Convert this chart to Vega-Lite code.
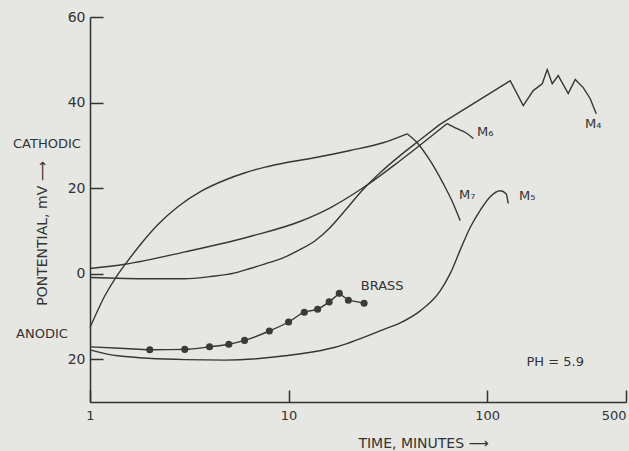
{
  "$schema": "https://vega.github.io/schema/vega-lite/v6.json",
  "width": 536,
  "height": 385,
  "autosize": {"type": "none"},
  "padding": {"left": 90, "top": 17, "right": 3, "bottom": 49},
  "background": "#e6e6e3",
  "config": {"view": {"stroke": null}, "font": "DejaVu Sans"},
  "datasets": {
    "curves": [
      {"s": "M7", "t": 1, "v": -12.6}, {"s": "M7", "t": 1.19, "v": -5.1}, {"s": "M7", "t": 1.38, "v": -0.2}, {"s": "M7", "t": 1.55, "v": 3.0},
      {"s": "M7", "t": 1.83, "v": 7.3}, {"s": "M7", "t": 2.2, "v": 11.5}, {"s": "M7", "t": 2.78, "v": 15.7}, {"s": "M7", "t": 3.67, "v": 19.4},
      {"s": "M7", "t": 4.79, "v": 21.9}, {"s": "M7", "t": 6.04, "v": 23.6}, {"s": "M7", "t": 7.62, "v": 24.9}, {"s": "M7", "t": 9.38, "v": 25.8},
      {"s": "M7", "t": 13.9, "v": 27.2}, {"s": "M7", "t": 20.4, "v": 28.8}, {"s": "M7", "t": 29.9, "v": 30.6}, {"s": "M7", "t": 39.5, "v": 32.7},
      {"s": "M7", "t": 44.4, "v": 30.6}, {"s": "M7", "t": 51.6, "v": 26.4}, {"s": "M7", "t": 60, "v": 21.1}, {"s": "M7", "t": 67.4, "v": 16.4},
      {"s": "M7", "t": 73.1, "v": 12.4},
      {"s": "M6", "t": 1, "v": 1.2}, {"s": "M6", "t": 1.5, "v": 2.2}, {"s": "M6", "t": 3.01, "v": 5.1}, {"s": "M6", "t": 6.39, "v": 8.7},
      {"s": "M6", "t": 11.4, "v": 12.2}, {"s": "M6", "t": 16.2, "v": 15.4}, {"s": "M6", "t": 23.4, "v": 19.9}, {"s": "M6", "t": 36.4, "v": 26.4},
      {"s": "M6", "t": 62.9, "v": 35.1}, {"s": "M6", "t": 70.6, "v": 33.9}, {"s": "M6", "t": 77.7, "v": 33.0}, {"s": "M6", "t": 85.2, "v": 31.6},
      {"s": "M4", "t": 1, "v": -0.9}, {"s": "M4", "t": 2, "v": -1.2}, {"s": "M4", "t": 3, "v": -1.2}, {"s": "M4", "t": 4, "v": -0.7},
      {"s": "M4", "t": 5.38, "v": 0.2}, {"s": "M4", "t": 6.39, "v": 1.2}, {"s": "M4", "t": 7.62, "v": 2.3}, {"s": "M4", "t": 9.38, "v": 3.7},
      {"s": "M4", "t": 11.4, "v": 5.6}, {"s": "M4", "t": 13.6, "v": 7.7}, {"s": "M4", "t": 16.2, "v": 10.8}, {"s": "M4", "t": 19.2, "v": 14.7},
      {"s": "M4", "t": 23.4, "v": 19.4}, {"s": "M4", "t": 28.9, "v": 23.6}, {"s": "M4", "t": 36.4, "v": 27.6}, {"s": "M4", "t": 46.0, "v": 31.3},
      {"s": "M4", "t": 57.8, "v": 34.9},
      {"s": "M4", "t": 130.6, "v": 45.1}, {"s": "M4", "t": 151.9, "v": 39.3}, {"s": "M4", "t": 170.5, "v": 42.8}, {"s": "M4", "t": 189.3, "v": 44.4},
      {"s": "M4", "t": 200.6, "v": 47.7}, {"s": "M4", "t": 212.6, "v": 44.4}, {"s": "M4", "t": 227.9, "v": 46.3}, {"s": "M4", "t": 255.9, "v": 42.1},
      {"s": "M4", "t": 277.6, "v": 45.4}, {"s": "M4", "t": 304.5, "v": 43.5}, {"s": "M4", "t": 330.3, "v": 40.9}, {"s": "M4", "t": 354.1, "v": 37.4},
      {"s": "M5", "t": 1, "v": -17.8}, {"s": "M5", "t": 1.38, "v": -19.2}, {"s": "M5", "t": 3.01, "v": -20.1}, {"s": "M5", "t": 4.79, "v": -20.2},
      {"s": "M5", "t": 9.6, "v": -19.2}, {"s": "M5", "t": 17.15, "v": -17.2}, {"s": "M5", "t": 30.6, "v": -12.9}, {"s": "M5", "t": 36.5, "v": -11.5},
      {"s": "M5", "t": 46, "v": -8.7}, {"s": "M5", "t": 58, "v": -4.0}, {"s": "M5", "t": 65.1, "v": 0}, {"s": "M5", "t": 73.1, "v": 5.5},
      {"s": "M5", "t": 82.1, "v": 10.8}, {"s": "M5", "t": 92.2, "v": 14.8}, {"s": "M5", "t": 103.5, "v": 18.0}, {"s": "M5", "t": 116.3, "v": 19.4},
      {"s": "M5", "t": 124.6, "v": 18.7}, {"s": "M5", "t": 127.6, "v": 16.4},
      {"s": "Brass", "t": 1, "v": -17.1}, {"s": "Brass", "t": 1.5, "v": -17.5}, {"s": "Brass", "t": 2, "v": -17.8}, {"s": "Brass", "t": 3, "v": -17.7},
      {"s": "Brass", "t": 4, "v": -17.1}, {"s": "Brass", "t": 5, "v": -16.5}, {"s": "Brass", "t": 6, "v": -15.6}, {"s": "Brass", "t": 8, "v": -13.4},
      {"s": "Brass", "t": 10, "v": -11.3}, {"s": "Brass", "t": 12, "v": -9.0}, {"s": "Brass", "t": 14, "v": -8.3}, {"s": "Brass", "t": 16, "v": -6.6},
      {"s": "Brass", "t": 18, "v": -4.6}, {"s": "Brass", "t": 20, "v": -6.2}, {"s": "Brass", "t": 24, "v": -6.9}
    ],
    "labels": [
      {"label": "M₄", "t": 342, "v": 34.9},
      {"label": "M₆", "t": 97.7, "v": 33.2},
      {"label": "M₇", "t": 79.3, "v": 18.5},
      {"label": "M₅", "t": 159, "v": 18.2},
      {"label": "BRASS", "t": 29.6, "v": -2.9},
      {"label": "PH = 5.9", "t": 220, "v": -20.6},
      {"label": "CATHODIC", "t": 0.607, "v": 30.4},
      {"label": "ANODIC", "t": 0.573, "v": -14.0}
    ]
  },
  "layer": [
    {
      "data": {"name": "curves"},
      "transform": [{"filter": "!(datum.s == 'M7' && datum.t > 39.5) && !(datum.s == 'M6' && datum.t > 62.9) && !(datum.s == 'M4' && datum.t > 57.8) && !(datum.s == 'Brass' && datum.t > 16)"}],
      "mark": {"type": "line", "color": "#363636", "strokeWidth": 1.4, "interpolate": "monotone", "clip": false},
      "encoding": {
        "x": {
          "field": "t", "type": "quantitative",
          "scale": {"type": "log", "domain": [1, 500]},
          "axis": {
            "values": [1, 10, 100, 500],
            "labelExpr": "format(datum.value, 'd')",
            "labelAlign": {"condition": {"test": "datum.value == 500", "value": "right"}, "value": "center"},
            "grid": false,
            "domainColor": "#333", "domainWidth": 1.5,
            "tickColor": "#333", "tickWidth": 1.5, "tickSize": -12,
            "labelPadding": 19, "labelFontSize": 13, "labelColor": "#333",
            "title": "TIME, MINUTES  ⟶",
            "titleX": 333, "titleY": 41, "titleAlign": "center", "titleBaseline": "middle",
            "titleFontWeight": "normal", "titleFontSize": 14, "titleColor": "#333"
          }
        },
        "y": {
          "field": "v", "type": "quantitative",
          "scale": {"domain": [-30, 60], "nice": false, "zero": false},
          "axis": {
            "values": [60, 40, 20, 0, -20],
            "labelExpr": "format(abs(datum.value), 'd')",
            "grid": false,
            "domainColor": "#333", "domainWidth": 1.5,
            "tickColor": "#333", "tickWidth": 1.5, "tickSize": -13,
            "labelPadding": 18, "labelFontSize": 14, "labelColor": "#333",
            "title": "PONTENTIAL, mV   ⟶",
            "titleX": -48, "titleY": 216, "titleAngle": 270, "titleAlign": "center", "titleBaseline": "middle",
            "titleFontWeight": "normal", "titleFontSize": 14, "titleColor": "#333"
          }
        },
        "detail": {"field": "s"}
      }
    },
    {
      "data": {"name": "curves"},
      "transform": [{"filter": "(datum.s == 'M7' && datum.t >= 39.5) || (datum.s == 'M6' && datum.t >= 62.9)"}],
      "mark": {"type": "line", "color": "#363636", "strokeWidth": 1.4, "interpolate": "monotone", "clip": false},
      "encoding": {
        "x": {"field": "t", "type": "quantitative", "scale": {"type": "log", "domain": [1, 500]}},
        "y": {"field": "v", "type": "quantitative"},
        "detail": {"field": "s"}
      }
    },
    {
      "data": {"name": "curves"},
      "transform": [{"filter": "(datum.s == 'M4' && datum.t >= 57.8) || (datum.s == 'Brass' && datum.t >= 16)"}],
      "mark": {"type": "line", "color": "#363636", "strokeWidth": 1.4, "interpolate": "linear", "clip": false},
      "encoding": {
        "x": {"field": "t", "type": "quantitative", "scale": {"type": "log", "domain": [1, 500]}},
        "y": {"field": "v", "type": "quantitative"},
        "detail": {"field": "s"}
      }
    },
    {
      "data": {"name": "curves"},
      "transform": [{"filter": "datum.s == 'Brass' && datum.t >= 2"}],
      "mark": {"type": "circle", "color": "#3a3a3a", "opacity": 1, "size": 50},
      "encoding": {
        "x": {"field": "t", "type": "quantitative", "scale": {"type": "log", "domain": [1, 500]}},
        "y": {"field": "v", "type": "quantitative"}
      }
    },
    {
      "data": {"name": "labels"},
      "mark": {"type": "text", "color": "#333", "fontSize": 13, "align": "center", "baseline": "middle", "clip": false},
      "encoding": {
        "x": {"field": "t", "type": "quantitative", "scale": {"type": "log", "domain": [1, 500]}},
        "y": {"field": "v", "type": "quantitative"},
        "text": {"field": "label"}
      }
    }
  ]
}
